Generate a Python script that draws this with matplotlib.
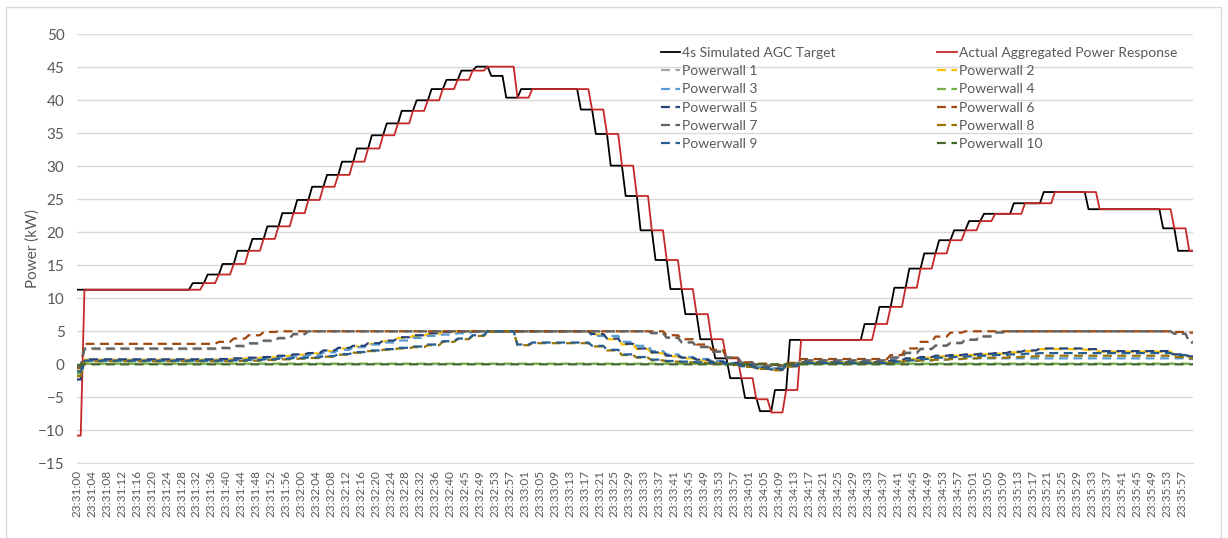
import numpy as np
import pandas as pd
import matplotlib
matplotlib.use("Agg")
import matplotlib.pyplot as plt
from matplotlib.patches import Rectangle

plt.rcParams["font.family"] = ["Lato", "DejaVu Sans"]

N = 300
# 1 s samples, one sample missing around 23:32:42
times = pd.date_range("2020-01-01 23:31:00", periods=N + 1, freq="s")
times = times.drop(pd.Timestamp("2020-01-01 23:32:42"))
tick_labels = [t.strftime("%H:%M:%S") for t in times]

# ---- AGC target: 4 s blocks starting at sample 3 ----
agc_head = [11.3, 11.3, 11.3]
agc_levels = [11.3] * 7 + [12.3, 13.6, 15.2, 17.2, 19.0, 20.9, 22.9, 24.9, 26.9, 28.7, 30.7, 32.7, 34.7,
                           36.5, 38.4, 40.0, 41.7, 43.1, 44.5, 45.1, 43.7, 40.4, 41.7, 41.7, 41.7, 41.7,
                           38.6, 34.9, 30.1, 25.5, 20.3, 15.8, 11.4, 7.6, 3.8, 0.9, -2.1, -5.1, -7.1, -3.9,
                           3.7, 3.7, 3.7, 3.7, 3.7, 6.1, 8.7, 11.6, 14.5, 16.8, 18.8, 20.3, 21.7, 22.8,
                           22.8, 24.4, 24.4, 26.1, 26.1, 26.1, 23.5, 23.5, 23.5, 23.5, 23.5, 20.6, 17.2, 17.2]

# ---- aggregated response + powerwalls: 4 s blocks starting at sample 2 ----
resp_head = [-10.8, -10.8]
resp_levels = [11.3] * 8 + [12.3, 13.6, 15.2, 17.2, 19.0, 20.9, 22.9, 24.9, 26.9, 28.7, 30.7, 32.7, 34.7,
                            36.5, 38.4, 40.0, 41.7, 43.1, 44.5, 45.1, 45.1, 40.4, 41.7, 41.7, 41.7, 41.7,
                            38.6, 34.9, 30.1, 25.5, 20.3, 15.8, 11.4, 7.6, 3.8, 0.9, -2.1, -5.3, -7.3, -3.9,
                            3.7, 3.7, 3.7, 3.7, 3.7, 6.1, 8.7, 11.6, 14.5, 16.8, 18.8, 20.3, 21.7, 22.8,
                            22.8, 24.4, 24.4, 26.1, 26.1, 26.1, 23.5, 23.5, 23.5, 23.5, 23.5, 20.6, 17.2]

pw_start = [-0.3, -0.9, -0.6, -1.4, -2.3, -0.5, -0.3, -1.8, -1.1, -0.1]

pw1 = ([2.3] * 9 + [2.4, 2.7, 3.1, 3.5, 3.9, 4.5] + [5.0] * 23
       + [4.8, 4.1, 3.4, 2.7, 2.0, 1.1, 0.3, -0.1, -0.2, 0.1] + [0.6] * 6
       + [1.1, 1.8, 2.4, 2.9, 3.3, 3.8, 4.3, 4.9] + [5.0] * 11 + [4.7, 3.5])
pw2 = ([0.7] * 9 + [0.75, 0.85, 0.95, 1.05, 1.25, 1.45, 1.65, 2.0, 2.4, 2.7, 3.1, 3.5, 4.0, 4.3, 4.6, 4.9]
       + [5.0] * 9 + [4.5, 3.8, 3.0, 2.3, 1.7, 1.2, 0.9, 0.6, 0.3, 0.1, -0.2, -0.6, -0.8, -0.3]
       + [0.3] * 6 + [0.5, 0.8, 1.0, 1.2, 1.3, 1.4, 1.5, 1.6, 1.8, 2.0] + [2.3] * 3 + [2.2]
       + [1.9] * 5 + [1.4, 1.1])
pw3 = ([0.6] * 10 + [0.65, 0.7, 0.8, 1.0, 1.2, 1.4, 1.8, 2.2, 2.6, 3.0, 3.3, 3.6, 4.0, 4.3, 4.5, 4.7, 4.9]
       + [5.0] * 7 + [4.3, 4.3, 3.4, 2.8, 2.0, 1.5, 1.1, 0.8, 0.5, 0.2, -0.1, -0.4, -0.6, -0.2]
       + [0.2] * 6 + [0.3, 0.5, 0.6, 0.7, 0.8] + [0.9] * 15 + [0.8])
pw4 = [0.1] * 44 + [-0.2, -0.3, -0.2, 0.2] + [0.1] * 27
pw5 = ([0.75] * 9 + [0.8, 0.9, 1.0, 1.1, 1.3, 1.5, 1.7, 2.1, 2.5, 2.8, 3.2, 3.6, 4.1, 4.4, 4.7, 4.9]
       + [5.0] * 9 + [4.6, 3.9, 3.1, 2.4, 1.8, 1.3, 1.0, 0.7, 0.4, 0.2, -0.1, -0.5, -0.7, -0.3]
       + [0.3] * 6 + [0.6, 0.9, 1.1, 1.3, 1.4, 1.5, 1.6, 1.7, 1.9, 2.1] + [2.4] * 3 + [2.3]
       + [2.0] * 5 + [1.5, 1.2])
pw6 = ([3.1] * 9 + [3.4, 3.9, 4.4, 4.9] + [5.0] * 25
       + [5.0, 4.4, 3.8, 3.0, 2.2, 1.0, 0.3, 0.1, -0.1, 0.2] + [0.8] * 6
       + [1.4, 2.4, 3.4, 4.2, 4.8] + [5.0] * 14 + [4.9, 4.8])
pw7 = ([2.4] * 9 + [2.5, 2.8, 3.2, 3.6, 4.0, 4.6] + [5.0] * 23
       + [4.7, 4.0, 3.3, 2.6, 1.9, 1.0, 0.2, -0.2, -0.3, 0.0] + [0.6] * 6
       + [1.0, 1.7, 2.3, 2.8, 3.2, 3.7, 4.2, 4.8] + [5.0] * 11 + [4.6, 3.3])
pw8 = ([0.45] * 10 + [0.5, 0.55, 0.65, 0.75, 0.85, 0.95, 1.15, 1.45, 1.75, 2.0, 2.2, 2.4, 2.6, 2.9, 3.4,
                      3.8, 4.3, 4.9, 5.0] + [2.9] + [3.2] * 4
       + [2.7, 2.1, 1.4, 1.0, 0.6, 0.4, 0.3, 0.2, 0.1, -0.1, -0.4, -0.7, -0.9, -0.3] + [0.1] * 6
       + [0.3, 0.5, 0.6, 0.7, 0.8, 0.9, 1.0, 1.0, 1.1, 1.2] + [1.3] * 9 + [1.1, 0.9])
pw9 = ([0.55] * 10 + [0.6, 0.65, 0.75, 0.85, 0.95, 1.05, 1.25, 1.55, 1.85, 2.1, 2.3, 2.5, 2.7, 3.0, 3.5,
                      3.9, 4.4, 5.0, 5.0] + [3.0] + [3.3] * 4
       + [2.8, 2.2, 1.5, 1.1, 0.7, 0.5, 0.4, 0.3, 0.2, 0.0, -0.3, -0.6, -0.8, -0.2] + [0.2] * 6
       + [0.4, 0.6, 0.8, 1.0, 1.1, 1.2, 1.3, 1.4, 1.5, 1.6] + [1.7] * 9 + [1.4, 1.1])
pw10 = [0.0] * 75

pw_levels = [pw1, pw2, pw3, pw4, pw5, pw6, pw7, pw8, pw9, pw10]
pw_names = [f"Powerwall {k}" for k in range(1, 11)]
pw_colors = ["#A5A5A5", "#FFC000", "#5B9BD5", "#70AD47", "#264478",
             "#9E480E", "#636363", "#997300", "#255E91", "#43682B"]


def expand(head, levels):
    return np.concatenate([head, np.repeat(levels, 4)])[:N]


x = np.arange(N)
agc = expand(agc_head, agc_levels)
resp = expand(resp_head, resp_levels)

W, H = 1228, 538
fig = plt.figure(figsize=(W / 100, H / 100), dpi=100)
ax = fig.add_axes([77 / W, 1 - 463.3 / H, (1193 - 77) / W, (463.3 - 34.3) / H])

handles = {}
handles["agc"], = ax.plot(x, agc, color="black", lw=1.3, label="4s Simulated AGC Target")
handles["resp"], = ax.plot(x, resp, color="#C62828", lw=1.3, label="Actual Aggregated Power Response")
for k in range(10):
    y = expand([pw_start[k]] * 2, pw_levels[k])
    handles[k], = ax.plot(x, y, color=pw_colors[k], lw=1.6, ls=(0, (4, 2.5)), label=pw_names[k])

ax.set_xlim(0, N - 1)
ax.set_ylim(-15, 50)
ax.set_yticks(np.arange(-15, 51, 5))
ax.set_xticks(np.arange(0, N, 4))
ax.set_xticklabels(tick_labels[::4], rotation=90, fontsize=8.5, color="#595959")
ax.tick_params(axis="y", length=0, pad=9, labelsize=11, labelcolor="#595959")
ax.tick_params(axis="x", length=0, pad=5)
ax.grid(axis="y", color="#D9D9D9", lw=1)
ax.set_axisbelow(True)
for s in ["left", "right", "top"]:
    ax.spines[s].set_visible(False)
ax.spines["bottom"].set_color("#D9D9D9")
ax.set_ylabel("Power (kW)", fontsize=11, color="#595959", labelpad=-1)

order = [handles["agc"], handles[0], handles[2], handles[4], handles[6], handles[8],
         handles["resp"], handles[1], handles[3], handles[5], handles[7], handles[9]]
ax.legend(handles=order, loc="upper left", bbox_to_anchor=(654 / W, 1 - 40 / H),
          bbox_transform=fig.transFigure, ncol=2, frameon=False, fontsize=10,
          handlelength=1.4, handletextpad=0.15, columnspacing=7.3, labelspacing=0.45,
          borderpad=0, labelcolor="#595959")

fig.add_artist(Rectangle((6 / W, -0.05), (1221 - 6) / W, 1.05 - 7 / H, transform=fig.transFigure,
                         fill=False, ec="#D9D9D9", lw=1))

fig.savefig("out.png", dpi=100)
